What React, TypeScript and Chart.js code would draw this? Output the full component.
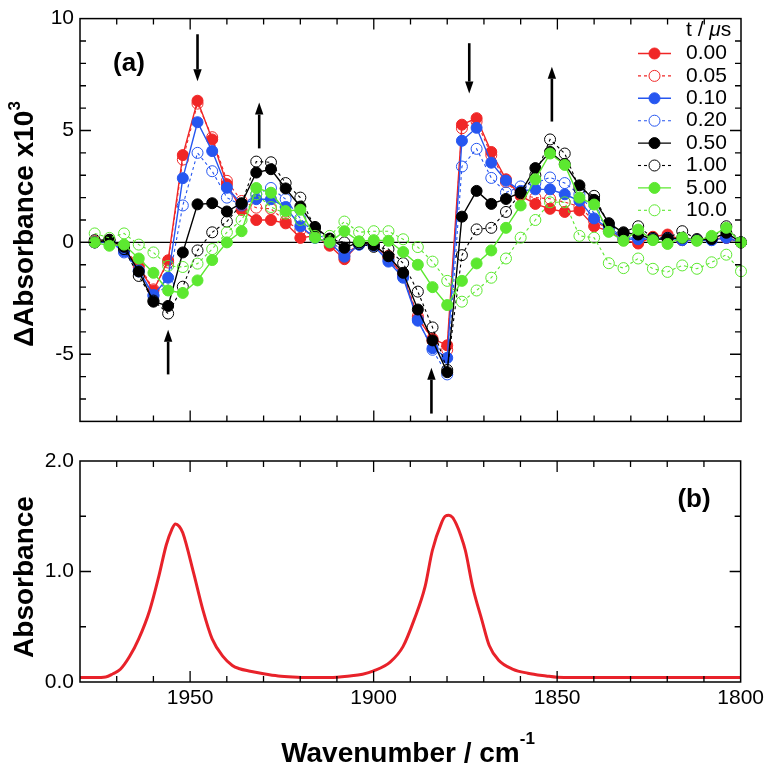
import React, { useEffect, useRef } from 'react';
import { Chart, registerables } from 'chart.js';

Chart.register(...registerables);

// ---------------- data ----------------
const WAVENUMBERS = [1976, 1972, 1968, 1964, 1960, 1956, 1952, 1948, 1944, 1940, 1936, 1932, 1928, 1924, 1920, 1916, 1912, 1908, 1904, 1900, 1896, 1892, 1888, 1884, 1880, 1876, 1872, 1868, 1864, 1860, 1856, 1852, 1848, 1844, 1840, 1836, 1832, 1828, 1824, 1820, 1816, 1812, 1808, 1804, 1800];

const T_LABELS = ['0.00', '0.05', '0.10', '0.20', '0.50', '1.00', '5.00', '10.0'];

const DA_000 = [0.0, 0.1, -0.35, -1.1, -2.15, -0.8, 3.9, 6.33, 4.6, 2.6, 1.45, 1.0, 1.0, 0.85, 0.2, 0.3, -0.15, -0.75, -0.05, -0.1, -0.7, -1.5, -3.4, -4.3, -4.6, 5.26, 5.55, 4.04, 2.82, 2.08, 1.72, 1.5, 1.36, 1.43, 0.72, 0.5, 0.1, -0.05, 0.25, 0.35, 0.1, 0.1, 0.15, 0.2, 0.0];
const DA_005 = [0.05, 0.1, -0.3, -1.0, -2.1, -0.9, 3.7, 6.2, 4.7, 2.75, 1.85, 1.55, 1.5, 0.95, 0.55, 0.3, -0.05, -0.6, -0.05, -0.1, -0.6, -1.4, -3.3, -4.4, -4.8, 5.1, 5.4, 3.9, 2.7, 2.1, 2.0, 1.95, 1.8, 1.6, 0.95, 0.6, 0.2, 0.05, 0.2, 0.3, 0.1, 0.1, 0.15, 0.2, 0.0];
const DA_010 = [0.0, 0.05, -0.4, -1.25, -2.35, -1.58, 2.87, 5.37, 4.08, 2.44, 1.72, 1.93, 1.93, 1.58, 0.72, 0.2, 0.0, -0.64, -0.1, -0.15, -0.86, -1.58, -3.5, -4.73, -5.16, 4.54, 5.12, 3.56, 2.76, 2.3, 2.37, 2.37, 2.15, 1.86, 1.07, 0.6, 0.15, 0.14, 0.15, 0.2, 0.1, 0.1, 0.1, 0.2, 0.0];
const DA_020 = [0.0, 0.05, -0.45, -1.3, -2.4, -1.9, 1.65, 4.0, 3.18, 2.0, 1.65, 2.15, 2.43, 1.93, 1.07, 0.36, 0.14, -0.5, -0.1, -0.15, -0.8, -1.5, -3.45, -4.8, -5.9, 3.39, 4.18, 2.88, 2.23, 2.5, 2.65, 2.9, 2.65, 2.15, 1.3, 0.7, 0.2, 0.2, 0.15, 0.2, 0.15, 0.1, 0.1, 0.25, 0.0];
const DA_050 = [0.0, 0.1, -0.2, -1.3, -2.65, -2.84, -0.45, 1.7, 1.75, 1.38, 1.75, 3.12, 3.27, 2.41, 1.6, 0.69, 0.17, -0.24, 0.0, -0.12, -0.62, -1.36, -3.0, -4.38, -5.8, 1.15, 2.3, 1.72, 1.94, 2.23, 3.32, 4.04, 3.5, 2.55, 1.9, 0.86, 0.43, 0.35, 0.14, 0.15, 0.2, 0.1, 0.15, 0.43, 0.0];
const DA_100 = [0.1, 0.12, -0.3, -1.5, -2.6, -3.18, -1.98, -0.36, 0.45, 0.93, 1.72, 3.61, 3.58, 2.65, 2.0, 0.64, 0.14, 0.0, -0.07, -0.2, -0.3, -0.93, -2.2, -3.8, -5.7, -0.57, 0.58, 0.65, 1.36, 2.2, 3.0, 4.6, 3.97, 2.4, 2.08, 0.8, 0.45, 0.72, 0.2, 0.2, 0.5, 0.15, 0.2, 0.72, 0.0];
const DA_500 = [0.0, -0.15, -0.1, -0.72, -1.36, -2.15, -2.26, -1.7, -0.79, 0.0, 0.5, 2.43, 2.22, 1.4, 1.46, 0.21, 0.0, 0.5, 0.05, 0.1, 0.07, -0.43, -1.0, -2.0, -2.8, -1.72, -0.94, -0.36, 0.65, 1.65, 2.82, 3.97, 3.46, 2.0, 1.69, 0.47, 0.07, 0.57, 0.1, -0.07, 0.21, 0.07, 0.29, 0.65, 0.0];
const DA_1000 = [0.4, 0.2, 0.4, -0.1, -0.45, -1.05, -1.1, -0.95, -0.3, 0.45, 1.0, 2.15, 1.58, 1.29, 1.0, 0.29, 0.29, 0.93, 0.45, 0.5, 0.5, 0.14, -0.21, -0.86, -1.72, -2.65, -2.15, -1.58, -0.72, 0.21, 1.0, 1.79, 1.79, 0.29, 0.21, -0.93, -1.15, -0.72, -1.18, -1.32, -1.03, -1.18, -0.89, -0.55, -1.29];

const DA_SERIES = [DA_000, DA_005, DA_010, DA_020, DA_050, DA_100, DA_500, DA_1000];

const ABS_WAVENUMBERS = [1980, 1976, 1973, 1971, 1969, 1966.5, 1964, 1961, 1958.5, 1956.5, 1955, 1954, 1953, 1952, 1949, 1946.5, 1944, 1941, 1938.5, 1936.5, 1934, 1930, 1926, 1922, 1918, 1912, 1906.5, 1903, 1900, 1895.5, 1892, 1889, 1886, 1884, 1881.5, 1880.5, 1879.5, 1878.5, 1877.5, 1876.3, 1875, 1873, 1870.5, 1868.5, 1866, 1862, 1858, 1853, 1850, 1840, 1800];
const ABS_VALUES = [0.04, 0.04, 0.045, 0.075, 0.115, 0.23, 0.39, 0.65, 0.96, 1.24, 1.38, 1.43, 1.41, 1.35, 0.98, 0.65, 0.39, 0.23, 0.15, 0.12, 0.1, 0.075, 0.055, 0.045, 0.04, 0.04, 0.054, 0.07, 0.1, 0.18, 0.32, 0.56, 0.86, 1.19, 1.44, 1.5, 1.51, 1.49, 1.43, 1.33, 1.19, 0.86, 0.56, 0.33, 0.2, 0.115, 0.08, 0.055, 0.043, 0.04, 0.04];

const X_TICK_LABELS = [1950, 1900, 1850, 1800];
const DA_TICK_LABELS = [-5, 0, 5, 10];
const ABS_TICK_LABELS = [0, 1, 2];

// arrows (data coordinates: wavenumber, from value -> to value)
const ARROW_X = [1948, 1931.2, 1874, 1851.5, 1956, 1884.3];
const ARROW_FROM = [9.3, 4.2, 8.9, 5.4, -5.9, -7.65];
const ARROW_TO = [7.2, 6.25, 6.65, 7.85, -3.9, -5.6];

// ---------------- styles ----------------
const FONT = '"Liberation Sans", Arial, Helvetica, sans-serif';
const RED = '#f02626';
const BLUE = '#2656f0';
const BLACK = '#000000';
const GREEN = '#5ce830';
const SERIES_STYLE = [
  { color: RED, filled: true },
  { color: RED, filled: false },
  { color: BLUE, filled: true },
  { color: BLUE, filled: false },
  { color: BLACK, filled: true },
  { color: BLACK, filled: false },
  { color: GREEN, filled: true },
  { color: GREEN, filled: false },
];

type Part = { text: string; font: string; rise: number };

function drawRich(ctx: CanvasRenderingContext2D, parts: Part[], x: number, y: number, rot: number, align: 'center' | 'start') {
  ctx.save();
  ctx.translate(x, y);
  ctx.rotate(rot);
  ctx.textBaseline = 'alphabetic';
  ctx.textAlign = 'left';
  ctx.fillStyle = '#000';
  let total = 0;
  const widths = parts.map((p) => {
    ctx.font = p.font;
    const w = ctx.measureText(p.text).width;
    total += w;
    return w;
  });
  let cx = align === 'center' ? -total / 2 : 0;
  parts.forEach((p, i) => {
    ctx.font = p.font;
    ctx.fillText(p.text, cx, -p.rise);
    cx += widths[i];
  });
  ctx.restore();
}

const framePlugin = {
  id: 'frame',
  beforeDatasetsDraw(chart: any, _a: any, opts: any) {
    if (!opts.zeroLine) return;
    const { ctx, chartArea: a, scales } = chart;
    const y0 = scales.y.getPixelForValue(0);
    ctx.save();
    ctx.strokeStyle = '#000';
    ctx.lineWidth = 1.4;
    ctx.beginPath();
    ctx.moveTo(a.left, y0);
    ctx.lineTo(a.right, y0);
    ctx.stroke();
    ctx.restore();
  },
  afterDatasetsDraw(chart: any, _a: any, opts: any) {
    const { ctx, chartArea: a, scales } = chart;
    const xs = scales.x;
    const ys = scales.y;
    ctx.save();
    ctx.strokeStyle = '#000';
    ctx.lineWidth = 1.5;
    ctx.strokeRect(a.left, a.top, a.right - a.left, a.bottom - a.top);
    const minorLen = 6;
    const majorLen = 11;
    ctx.lineWidth = 1.3;
    ctx.beginPath();
    const xStart = Math.ceil(Math.min(xs.min, xs.max) / opts.xMinor) * opts.xMinor;
    for (let v = xStart; v <= Math.max(xs.min, xs.max) + 1e-9; v += opts.xMinor) {
      const px = xs.getPixelForValue(v);
      if (px <= a.left + 1 || px >= a.right - 1) continue;
      const len = Math.abs(v % opts.xMajor) < 1e-6 ? majorLen : minorLen;
      ctx.moveTo(px, a.top);
      ctx.lineTo(px, a.top + len);
      ctx.moveTo(px, a.bottom);
      ctx.lineTo(px, a.bottom - len);
    }
    const yStart = Math.ceil(ys.min / opts.yMinor - 1e-9) * opts.yMinor;
    for (let v = yStart; v <= ys.max + 1e-9; v += opts.yMinor) {
      const py = ys.getPixelForValue(v);
      if (py <= a.top + 1 || py >= a.bottom - 1) continue;
      const r = Math.abs(v / opts.yMajor - Math.round(v / opts.yMajor));
      const len = r < 1e-6 ? majorLen : minorLen;
      ctx.moveTo(a.left, py);
      ctx.lineTo(a.left + len, py);
      ctx.moveTo(a.right, py);
      ctx.lineTo(a.right - len, py);
    }
    ctx.stroke();

    // arrows
    if (opts.arrows) {
      ctx.fillStyle = '#000';
      ctx.strokeStyle = '#000';
      for (let i = 0; i < ARROW_X.length; i++) {
        const px = xs.getPixelForValue(ARROW_X[i]);
        const p0 = ys.getPixelForValue(ARROW_FROM[i]);
        const p1 = ys.getPixelForValue(ARROW_TO[i]);
        const dir = Math.sign(p1 - p0);
        const hl = 12;
        const hw = 4.2;
        ctx.lineWidth = 2.6;
        ctx.beginPath();
        ctx.moveTo(px, p0);
        ctx.lineTo(px, p1 - dir * hl);
        ctx.stroke();
        ctx.beginPath();
        ctx.moveTo(px, p1);
        ctx.lineTo(px - hw, p1 - dir * hl);
        ctx.lineTo(px + hw, p1 - dir * hl);
        ctx.closePath();
        ctx.fill();
      }
    }
    ctx.restore();
  },
  afterDraw(chart: any, _a: any, opts: any) {
    const ctx: CanvasRenderingContext2D = chart.ctx;
    (opts.texts || []).forEach((t: any) => drawRich(ctx, t.parts, t.x, t.y, t.rot || 0, t.align || 'center'));
    if (opts.legend) {
      const L = opts.legend;
      ctx.save();
      ctx.fillStyle = '#000';
      ctx.textBaseline = 'middle';
      ctx.textAlign = 'left';
      // header "t / μs"
      let hx = L.textX;
      const headerParts = [
        { t: 't / ', f: `21px ${FONT}` },
        { t: 'μ', f: `italic 21px ${FONT}` },
        { t: 's', f: `21px ${FONT}` },
      ];
      headerParts.forEach((p) => {
        ctx.font = p.f;
        ctx.fillText(p.t, hx, L.headerY);
        hx += ctx.measureText(p.t).width;
      });
      chart.data.datasets.forEach((ds: any, i: number) => {
        const y = L.firstY + i * L.gap;
        ctx.strokeStyle = ds.borderColor;
        ctx.lineWidth = ds.borderWidth;
        ctx.setLineDash(ds.borderDash || []);
        ctx.beginPath();
        ctx.moveTo(L.lineX0, y);
        ctx.lineTo(L.lineX1, y);
        ctx.stroke();
        ctx.setLineDash([]);
        const mx = (L.lineX0 + L.lineX1) / 2;
        ctx.beginPath();
        ctx.arc(mx, y, ds.pointRadius, 0, Math.PI * 2);
        if (ds.pointBackgroundColor !== 'rgba(0,0,0,0)') {
          ctx.fillStyle = ds.pointBackgroundColor;
          ctx.fill();
        } else {
          ctx.fillStyle = '#fff';
          ctx.fill();
        }
        ctx.lineWidth = 1;
        ctx.strokeStyle = ds.pointBorderColor;
        ctx.stroke();
        ctx.fillStyle = '#000';
        ctx.font = `21px ${FONT}`;
        ctx.fillText(ds.label, L.textX, y);
      });
      ctx.restore();
    }
  },
};

const tickFont = { family: FONT, size: 21, lineHeight: 1.2 };
const titleFont = `bold 28px ${FONT}`;
const supFont = `bold 17px ${FONT}`;

function topConfig(): any {
  const datasets = DA_SERIES.map((vals, i) => {
    const st = SERIES_STYLE[i];
    return {
      label: T_LABELS[i],
      data: WAVENUMBERS.map((x, k) => ({ x, y: vals[k] })),
      borderColor: st.color,
      backgroundColor: st.color,
      pointBackgroundColor: st.filled ? st.color : 'rgba(0,0,0,0)',
      pointBorderColor: st.color,
      pointRadius: 5.5,
      pointBorderWidth: 1,
      borderWidth: st.filled ? 1.4 : 1.1,
      borderDash: st.filled ? [] : [3, 3],
      tension: 0,
      clip: false,
      order: 10 - i,
    };
  });
  return {
    type: 'line',
    data: { datasets },
    options: {
      animation: false,
      responsive: false,
      events: [],
      layout: { padding: { top: 12, right: 27, left: 0, bottom: 0 } },
      plugins: {
        legend: { display: false },
        tooltip: { enabled: false },
        frame: {
          zeroLine: true,
          xMinor: 10,
          xMajor: 50,
          yMinor: 1,
          yMajor: 5,
          arrows: true,
          texts: [
            {
              parts: [
                { text: 'ΔAbsorbance x10', font: titleFont, rise: 0 },
                { text: '3', font: supFont, rise: 13 },
              ],
              x: 33,
              y: 347,
              rot: -Math.PI / 2,
              align: 'start',
            },
            { parts: [{ text: '(a)', font: `bold 26px ${FONT}`, rise: 0 }], x: 129, y: 71, align: 'center' },
          ],
          legend: { textX: 686, headerY: 30, firstY: 53.5, gap: 22.4, lineX0: 638, lineX1: 671 },
        },
      },
      scales: {
        x: {
          type: 'linear',
          min: 1800,
          max: 1980,
          reverse: true,
          grid: { display: false, drawTicks: false },
          border: { display: false },
          ticks: { display: false },
          afterFit: (s: any) => {
            s.height = 12;
          },
        },
        y: {
          type: 'linear',
          min: -8,
          max: 10,
          grid: { display: false, drawTicks: false },
          border: { display: false },
          ticks: { font: tickFont, color: '#000', padding: 6, callback: (v: number) => String(v) },
          afterBuildTicks: (s: any) => {
            s.ticks = DA_TICK_LABELS.map((value) => ({ value }));
          },
          afterFit: (s: any) => {
            s.width = 80;
          },
        },
      },
    },
    plugins: [framePlugin],
  };
}

function bottomConfig(): any {
  return {
    type: 'line',
    data: {
      datasets: [
        {
          label: 'Absorbance',
          data: ABS_WAVENUMBERS.map((x, k) => ({ x, y: ABS_VALUES[k] })),
          borderColor: '#e8222a',
          borderWidth: 3,
          pointRadius: 0,
          cubicInterpolationMode: 'monotone',
          fill: false,
        },
      ],
    },
    options: {
      animation: false,
      responsive: false,
      events: [],
      layout: { padding: { top: 21, right: 27, left: 0, bottom: 0 } },
      plugins: {
        legend: { display: false },
        tooltip: { enabled: false },
        frame: {
          zeroLine: false,
          xMinor: 10,
          xMajor: 50,
          yMinor: 0.5,
          yMajor: 1,
          arrows: false,
          texts: [
            {
              parts: [{ text: 'Absorbance', font: titleFont, rise: 0 }],
              x: 33,
              y: 137,
              rot: -Math.PI / 2,
              align: 'center',
            },
            {
              parts: [
                { text: 'Wavenumber / cm', font: titleFont, rise: 0 },
                { text: '-1', font: supFont, rise: 18 },
              ],
              x: 408,
              y: 322,
              align: 'center',
            },
            { parts: [{ text: '(b)', font: `bold 26px ${FONT}`, rise: 0 }], x: 694, y: 67, align: 'center' },
          ],
        },
      },
      scales: {
        x: {
          type: 'linear',
          min: 1800,
          max: 1980,
          reverse: true,
          grid: { display: false, drawTicks: false },
          border: { display: false },
          ticks: { font: tickFont, color: '#000', padding: 4, maxRotation: 0, callback: (v: number) => String(v) },
          afterBuildTicks: (s: any) => {
            s.ticks = X_TICK_LABELS.map((value) => ({ value }));
          },
          afterFit: (s: any) => {
            s.height = 84;
          },
        },
        y: {
          type: 'linear',
          min: 0,
          max: 2,
          grid: { display: false, drawTicks: false },
          border: { display: false },
          ticks: { font: tickFont, color: '#000', padding: 6, callback: (v: number) => v.toFixed(1) },
          afterBuildTicks: (s: any) => {
            s.ticks = ABS_TICK_LABELS.map((value) => ({ value }));
          },
          afterFit: (s: any) => {
            s.width = 80;
          },
        },
      },
    },
    plugins: [framePlugin],
  };
}

export default function App() {
  const topRef = useRef<HTMLCanvasElement>(null);
  const botRef = useRef<HTMLCanvasElement>(null);
  useEffect(() => {
    const top = new Chart(topRef.current as HTMLCanvasElement, topConfig());
    const bot = new Chart(botRef.current as HTMLCanvasElement, bottomConfig());
    return () => {
      top.destroy();
      bot.destroy();
    };
  }, []);
  return (
    <div style={{ position: 'absolute', left: 0, top: 0, width: 768, height: 766, background: '#fff' }}>
      <canvas ref={topRef} width={768} height={440} style={{ position: 'absolute', left: 0, top: 0, width: 768, height: 440 }} />
      <canvas ref={botRef} width={768} height={326} style={{ position: 'absolute', left: 0, top: 440, width: 768, height: 326 }} />
    </div>
  );
}
